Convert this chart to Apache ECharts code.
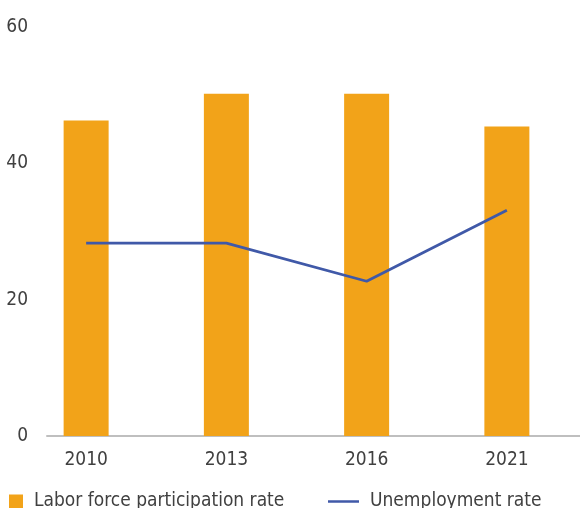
<!DOCTYPE html>
<html><head><meta charset="utf-8">
<script src="https://cdn.jsdelivr.net/npm/echarts@6/dist/echarts.min.js"></script>
<style>html,body{margin:0;padding:0;background:#fff}#c{width:580px;height:508px}</style>
</head><body><div id="c"></div>
<script>
const categories = ['2010', '2013', '2016', '2021'];
const laborForce = [46.3, 50.2, 50.2, 45.4];
const unemployment = [28.3, 28.3, 22.7, 33.1];
const yTicks = [0, 20, 40, 60];

const FONT = '"DejaVu Sans Condensed", "Liberation Sans Narrow", sans-serif';
const TXT = '#404040';
const FS = 19;
const chart = echarts.init(document.getElementById('c'), null, {renderer: 'canvas'});
chart.setOption({
  animation: false,
  backgroundColor: '#ffffff',
  grid: [
    {left: 16, right: 3, top: 27, bottom: 72},
    {left: 47, right: 0, top: 27, bottom: 72}
  ],
  xAxis: [
    {type: 'category', gridIndex: 0, data: categories,
     axisLine: {show: false}, axisTick: {show: false},
     axisLabel: {color: TXT, fontFamily: FONT, fontSize: FS, margin: 15}},
    {type: 'category', gridIndex: 1, data: categories,
     axisLine: {show: true, lineStyle: {color: '#BFBFBF', width: 2}},
     axisTick: {show: false}, axisLabel: {show: false}}
  ],
  yAxis: [
    {type: 'value', gridIndex: 0, min: yTicks[0], max: yTicks[yTicks.length-1], interval: 20,
     axisLabel: {show: false}, splitLine: {show: false}, axisLine: {show: false}, axisTick: {show: false}},
    {type: 'value', gridIndex: 1, min: yTicks[0], max: yTicks[yTicks.length-1], interval: 20,
     axisLabel: {color: TXT, fontFamily: FONT, fontSize: FS, margin: 19},
     splitLine: {show: false}, axisLine: {show: false}, axisTick: {show: false}}
  ],
  legend: [
    {data: ['Labor force participation rate'], left: 4, top: 487, icon: 'rect',
     itemWidth: 14, itemHeight: 14,
     textStyle: {color: TXT, fontFamily: FONT, fontSize: FS, padding: [0, 0, 0, 6]}},
    {data: ['Unemployment rate'], left: 323, top: 487,
     icon: 'path://M0 0 L31 0 L31 2.5 L0 2.5 Z',
     itemWidth: 31, itemHeight: 3,
     textStyle: {color: TXT, fontFamily: FONT, fontSize: FS, padding: [0, 0, 0, 6]}}
  ],
  series: [
    {name: 'Labor force participation rate', type: 'bar', xAxisIndex: 0, yAxisIndex: 0,
     data: laborForce, barWidth: 45, itemStyle: {color: '#F2A319'}},
    {name: 'Unemployment rate', type: 'line', xAxisIndex: 0, yAxisIndex: 0,
     data: unemployment, symbol: 'none', lineStyle: {color: '#4059A8', width: 2.8},
     itemStyle: {color: '#4059A8'}}
  ]
});
</script></body></html>
